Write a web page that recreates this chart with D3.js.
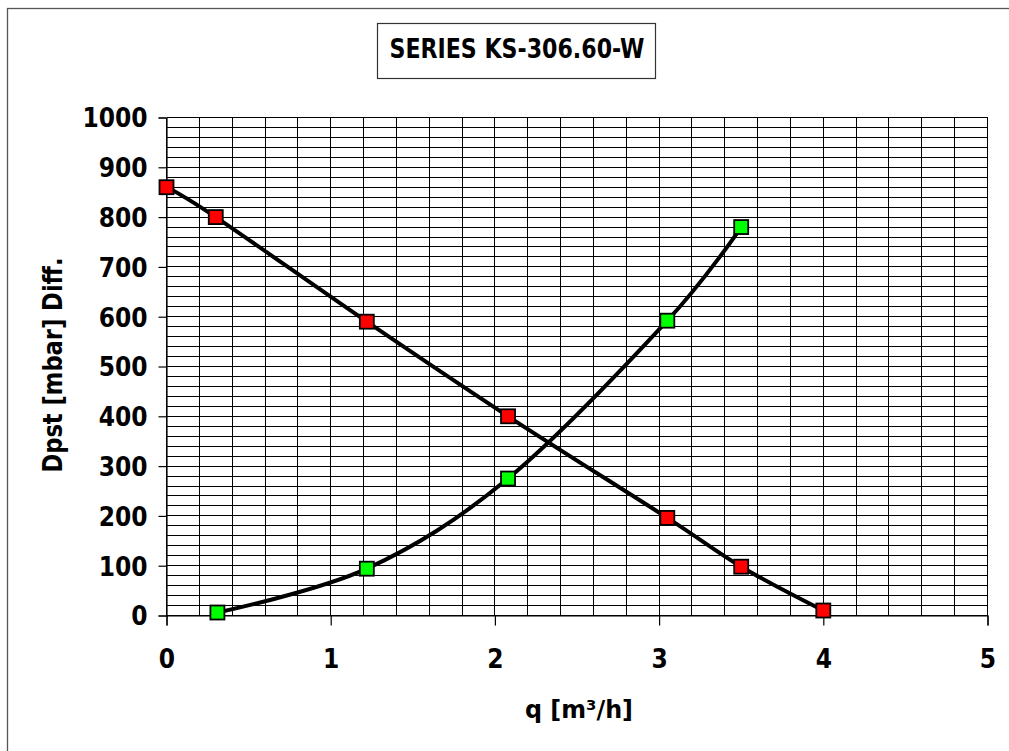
<!DOCTYPE html>
<html>
<head>
<meta charset="utf-8">
<script src="https://cdn.jsdelivr.net/npm/d3@7"></script>
<style>
  body { margin: 0; background: #fff; }
  svg text { font-family: "DejaVu Sans Condensed", "DejaVu Sans", sans-serif; font-weight: bold; fill: #000; }
</style>
</head>
<body>
<div id="chart"></div>
<script>
// data
let titleText = "SERIES KS-306.60-W";
let xLabel = "q [m³/h]";
let yLabel = "Dpst [mbar] Diff.";

let xTicks = [0, 1, 2, 3, 4, 5];
let yTicks = [0, 100, 200, 300, 400, 500, 600, 700, 800, 900, 1000];

// pressure curve (red)
let redQ = [0, 0.3, 1.22, 2.08, 3.05, 3.5, 4.0];
let redP = [860, 800, 590, 400, 196, 98, 10];

// difference curve (green)
let greenQ = [0.31, 1.22, 2.08, 3.05, 3.5];
let greenP = [6, 94, 275, 592, 780];

let width = 1009, height = 751;
let plotLeft = 166.5, plotRight = 987.5, plotTop = 117.5, plotBottom = 615.5;
let fontFam = "'DejaVu Sans Condensed', 'DejaVu Sans', sans-serif";

let svg = d3.select("#chart").append("svg")
	.attr("width", width)
	.attr("height", height);

// outer chart frame (only top/left visible in the picture)
svg.append("rect")
	.attr("x", 7.5).attr("y", 8.5)
	.attr("width", 1020).attr("height", 760)
	.attr("fill", "none")
	.attr("stroke", "#555")
	.attr("stroke-width", 1.3);

let xScale = d3.scaleLinear().domain([0, 5]).range([plotLeft, plotRight]);
let yScale = d3.scaleLinear().domain([0, 1000]).range([plotBottom, plotTop]);

// minor grid
let g = svg.append("g").attr("shape-rendering", "crispEdges");
g.selectAll(".vgrid")
	.data(d3.range(0, 5.0001, 0.2))
	.enter().append("line")
	.attr("x1", d => xScale(d)).attr("x2", d => xScale(d))
	.attr("y1", plotTop).attr("y2", plotBottom)
	.attr("stroke", "#000").attr("stroke-width", 1);

g.selectAll(".hgrid")
	.data(d3.range(0, 1000.01, 20))
	.enter().append("line")
	.attr("x1", plotLeft).attr("x2", plotRight)
	.attr("y1", d => yScale(d)).attr("y2", d => yScale(d))
	.attr("stroke", "#000").attr("stroke-width", 1);

// axes
let yAxis = d3.axisLeft(yScale).tickValues(yTicks).tickSize(8).tickPadding(11).tickFormat(d3.format("d"));
let xAxis = d3.axisBottom(xScale).tickValues(xTicks).tickSize(10).tickPadding(24).tickFormat(d3.format("d"));

let ya = svg.append("g")
	.attr("transform", `translate(${plotLeft},0)`)
	.call(yAxis);
let xa = svg.append("g")
	.attr("transform", `translate(0,${plotBottom})`)
	.call(xAxis);

[ya, xa].forEach(a => {
	a.select(".domain").attr("stroke", "#000").attr("stroke-width", 1.2);
	a.selectAll(".tick line").attr("stroke", "#000").attr("stroke-width", 1.2);
	a.selectAll(".tick text")
		.style("font-size", "26px")
		.style("font-family", fontFam)
		.style("font-weight", "bold")
		.attr("fill", "#000");
});
ya.selectAll(".tick text").attr("dy", "0.36em");

// axis titles
svg.append("text")
	.attr("transform", `translate(62,365) rotate(-90)`)
	.attr("text-anchor", "middle")
	.style("font-size", "26px")
	.attr("textLength", 215)
	.attr("lengthAdjust", "spacingAndGlyphs")
	.text(yLabel);

svg.append("text")
	.attr("x", 579).attr("y", 718)
	.attr("text-anchor", "middle")
	.style("font-size", "25px")
	.attr("textLength", 108)
	.attr("lengthAdjust", "spacingAndGlyphs")
	.text(xLabel);

// title box
svg.append("rect")
	.attr("x", 377.5).attr("y", 23.5)
	.attr("width", 278).attr("height", 55)
	.attr("fill", "#fff")
	.attr("stroke", "#333")
	.attr("stroke-width", 1.2);

svg.append("text")
	.attr("x", 517).attr("y", 58)
	.attr("text-anchor", "middle")
	.style("font-size", "26px")
	.attr("textLength", 255)
	.attr("lengthAdjust", "spacingAndGlyphs")
	.text(titleText);

// curves
let line = d3.line()
	.x(d => xScale(d[0]))
	.y(d => yScale(d[1]))
	.curve(d3.curveCatmullRom.alpha(0));

let series = [
	{ pts: d3.zip(redQ, redP), color: "#ff0000" },
	{ pts: d3.zip(greenQ, greenP), color: "#00ff00" }
];

series.forEach(s => {
	svg.append("path")
		.datum(s.pts)
		.attr("d", line)
		.attr("fill", "none")
		.attr("stroke", "#000")
		.attr("stroke-width", 4);
});

let size = 14;
series.forEach(s => {
	svg.selectAll(null)
		.data(s.pts)
		.enter().append("rect")
		.attr("x", d => xScale(d[0]) - size / 2)
		.attr("y", d => yScale(d[1]) - size / 2)
		.attr("width", size).attr("height", size)
		.attr("fill", s.color)
		.attr("stroke", "#000")
		.attr("stroke-width", 1.8);
});
</script>
</body>
</html>
